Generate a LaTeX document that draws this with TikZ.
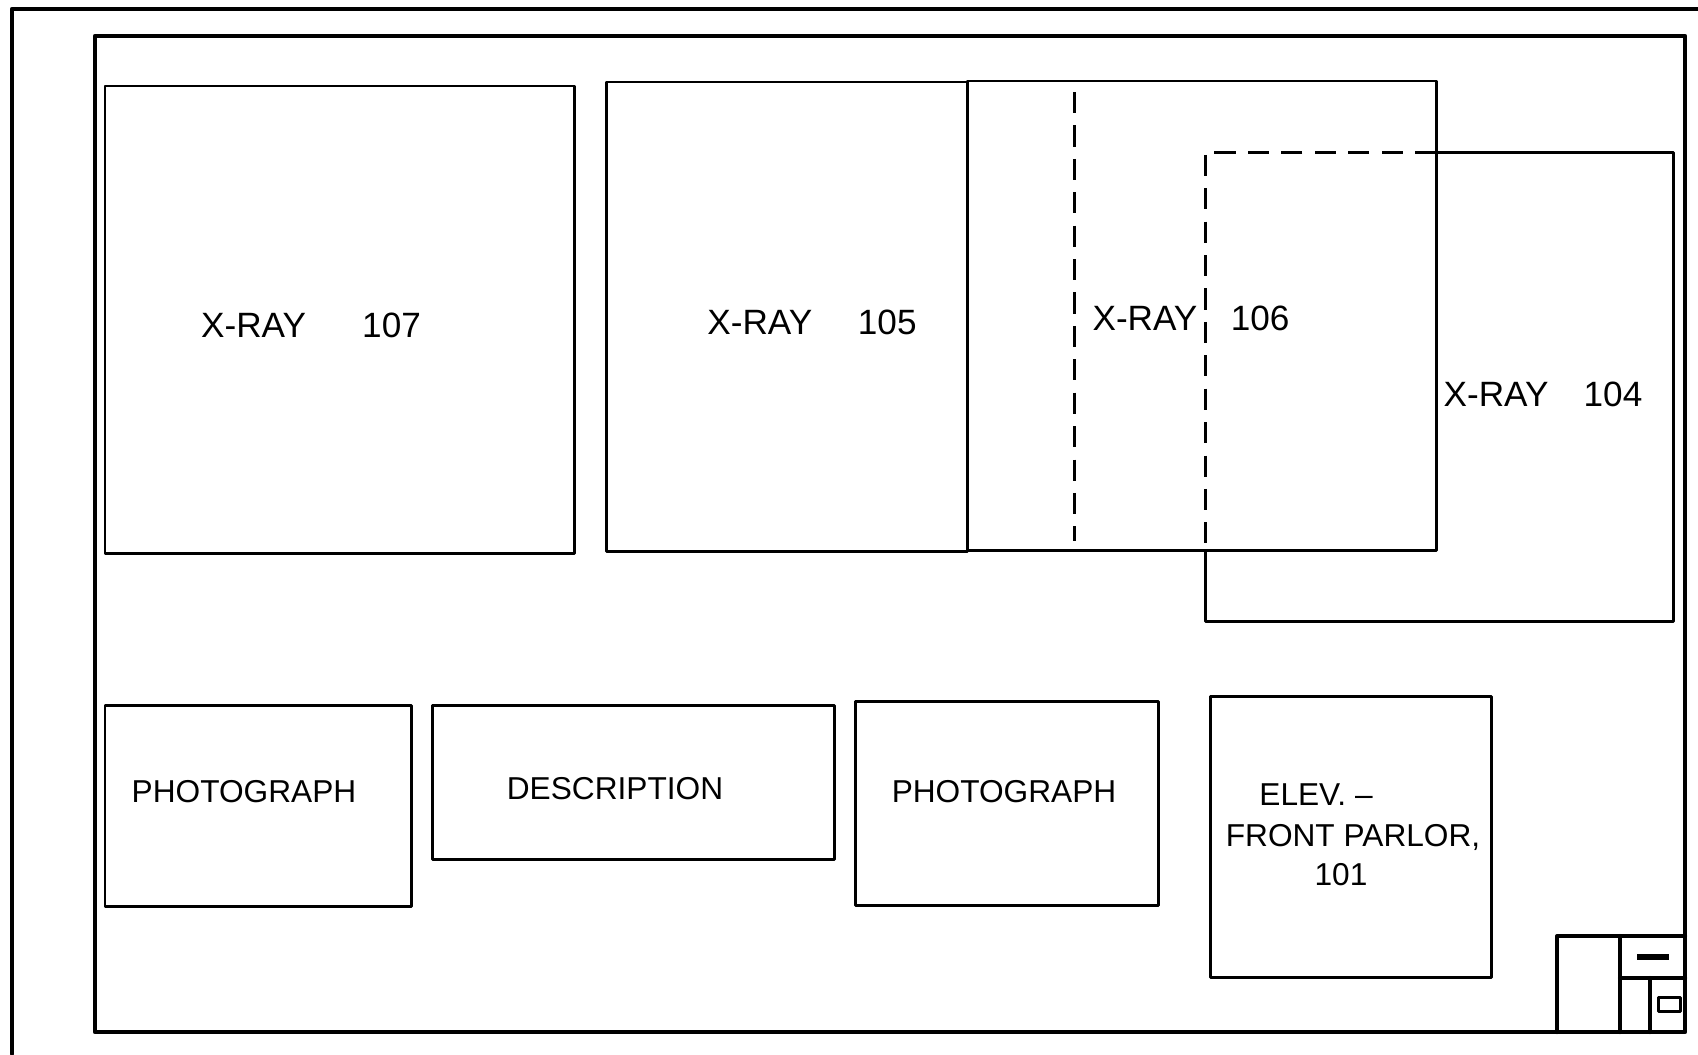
\documentclass[tikz,border=0pt]{standalone}
\usepackage{fontspec}
\setmainfont{Liberation Sans}
\begin{document}
\begin{tikzpicture}[x=0.01cm,y=-0.01cm,
  frame/.style={line width=1.2pt,line cap=round,line join=round},
  box/.style={line width=0.85pt,line join=round},
  dashline/.style={line width=0.85pt,dash pattern=on 6pt off 3.5pt},
  biglbl/.style={inner sep=0pt,font=\fontsize{10}{12}\selectfont},
  smalllbl/.style={inner sep=0pt,font=\fontsize{9}{11}\selectfont}]
\useasboundingbox (0,0) rectangle (1698,1054);
% outer sheet edge
\draw[frame] (12,1054) -- (12,9) -- (1698,9);
% inner border
\draw[frame] (95,36) rectangle (1685,1032);
% x-ray frames
\draw[box] (105,86) rectangle (574,553);
\draw[box] (606,82) rectangle (967,551);
\draw[box] (967,81) rectangle (1436,550);
\draw[dashline] (1074,92) -- (1074,541);
% x-ray 104 (partly hidden)
\draw[box] (1436,152) -- (1673,152) -- (1673,621) -- (1205,621) -- (1205,550);
\draw[dashline] (1436,152) -- (1205,152) -- (1205,550);
% labels
\node[biglbl] (x107) at (311,325) {X-RAY\hspace{16pt}107};
\node[biglbl] (x105) at (812,322) {X-RAY\hspace{13pt}105};
\node[biglbl] (x106) at (1191,318) {X-RAY\hspace{9.5pt}106};
\node[biglbl] (x104) at (1543,394) {X-RAY\hspace{10pt}104};
% bottom row
\draw[box] (105,705) rectangle (411,906);
\draw[box] (432,705) rectangle (834,859);
\draw[box] (855,701) rectangle (1158,905);
\draw[box] (1210,696) rectangle (1491,977);
\node[smalllbl] (ph1) at (244,792) {PHOTOGRAPH};
\node[smalllbl] (desc) at (615,789) {DESCRIPTION};
\node[smalllbl] (ph2) at (1004,792) {PHOTOGRAPH};
\node[smalllbl] (el1) at (1316,795) {ELEV. --};
\node[smalllbl] (el2) at (1353,837) {FRONT PARLOR,};
\node[smalllbl] (el3) at (1341,875) {101};
% title block
\draw[frame] (1557,1032) -- (1557,936) -- (1685,936);
\draw[frame] (1620,936) -- (1620,1032);
\draw[frame] (1620,978) -- (1685,978);
\draw[frame] (1650,978) -- (1650,1032);
\draw[line width=1.6pt] (1637,957) -- (1669,957);
\draw[box] (1658,997) rectangle (1680,1011);
\end{tikzpicture}
\end{document}
